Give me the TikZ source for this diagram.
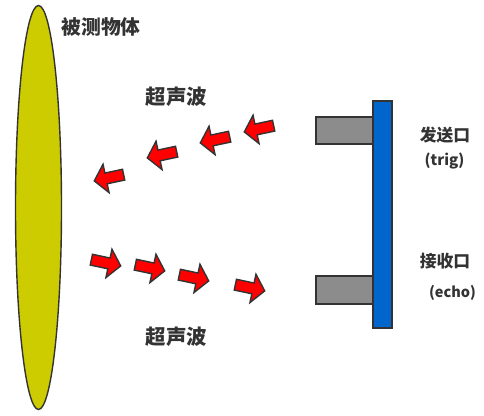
\documentclass[tikz,border=0pt]{standalone}
\usepackage{fontspec}
\setmainfont{Noto Sans CJK SC}
\definecolor{txt}{HTML}{333333}
\definecolor{edge}{HTML}{333333}
\definecolor{olive}{HTML}{CCCC00}
\definecolor{barblue}{HTML}{0066CC}
\definecolor{port}{HTML}{8C8C8C}
\begin{document}
\begin{tikzpicture}[x=1pt,y=1pt,
  lbl/.style={text=txt, inner sep=0pt, font=\bfseries},
  outl/.style={draw=edge, line width=1.4pt, line join=miter},
  redarrow/.style={draw=edge, line width=1.4pt, fill=red, line join=miter}]
\useasboundingbox (0,0) rectangle (484,-415);
% object
\draw[outl, fill=olive] (38.5,-207.5) ellipse [x radius=23, y radius=202];
% sensor
\draw[outl, fill=port] (316,-117) rectangle (373,-144);
\draw[outl, fill=port] (316,-276) rectangle (373,-304);
\draw[outl, fill=barblue] (373,-101) rectangle (392,-328);
% arrows (local: pointing +x)
\foreach \cx/\cy/\ang in {108/178/192, 161/155/192, 214/140/192, 258/129/192,
                          107/263/-12, 151/268/-12, 195/278/-12, 251/288/-12}{
  \draw[redarrow, shift={(\cx,-\cy)}, rotate=\ang]
    (-16,-5.5) -- (2,-5.5) -- (2,-14.5) -- (14,0) -- (2,14.5) -- (2,5.5) -- (-16,5.5) -- cycle;
}
% labels
\node[lbl, font=\bfseries\fontsize{19.8}{19.8}\selectfont] (obj) at (101,-27) {被测物体};
\node[lbl, font=\bfseries\fontsize{20.5}{20.5}\selectfont] (usTop) at (176.5,-97) {超声波};
\node[lbl, font=\bfseries\fontsize{20.5}{20.5}\selectfont] (usBot) at (176.5,-337) {超声波};
\node[lbl, font=\bfseries\fontsize{16.8}{16.8}\selectfont] (trigcn) at (445,-135.5) {发送口};
\node[lbl, font=\bfseries\fontsize{15}{15}\selectfont] (trig) at (444.5,-161) {(trig)};
\node[lbl, font=\bfseries\fontsize{16.8}{16.8}\selectfont] (echocn) at (445,-261.5) {接收口};
\node[lbl, font=\bfseries\fontsize{14.5}{14.5}\selectfont] (echo) at (452.5,-293) {(echo)};
\end{tikzpicture}
\end{document}
